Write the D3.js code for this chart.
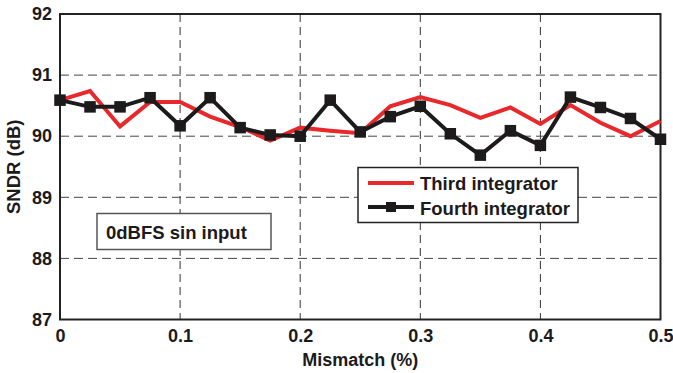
<!DOCTYPE html>
<html>
<head>
<meta charset="utf-8">
<script src="https://cdn.jsdelivr.net/npm/d3@7"></script>
<style>
  html, body { margin: 0; padding: 0; background: #fff; }
  svg { display: block; font-family: "Liberation Sans", Arial, sans-serif; font-weight: bold; }
</style>
</head>
<body>
<svg id="chart" width="673" height="373"></svg>
<script>
const mismatch = [0, 0.025, 0.05, 0.075, 0.1, 0.125, 0.15, 0.175, 0.2, 0.225, 0.25,
                  0.275, 0.3, 0.325, 0.35, 0.375, 0.4, 0.425, 0.45, 0.475, 0.5];
const thirdIntegrator = [90.59, 90.74, 90.16, 90.56, 90.56, 90.32, 90.15, 89.93, 90.14, 90.09, 90.05,
                         90.49, 90.64, 90.51, 90.30, 90.47, 90.20, 90.51, 90.22, 90.00, 90.25];
const fourthIntegrator = [90.59, 90.48, 90.48, 90.63, 90.17, 90.63, 90.14, 90.02, 90.00, 90.59, 90.07,
                          90.32, 90.49, 90.04, 89.69, 90.09, 89.85, 90.64, 90.47, 90.29, 89.95];
const xTicks = [0, 0.1, 0.2, 0.3, 0.4, 0.5];
const xTickLabels = ["0", "0.1", "0.2", "0.3", "0.4", "0.5"];
const yTicks = [87, 88, 89, 90, 91, 92];
const seriesNames = ["Third integrator", "Fourth integrator"];
const annotation = "0dBFS sin input";

const svg = d3.select("#chart");
const pL = 60, pR = 660.5, pT = 14, pB = 319.5;
const x = d3.scaleLinear().domain([0, 0.5]).range([pL, pR]);
const y = d3.scaleLinear().domain([87, 92]).range([pB, pT]);
const ink = "#1c1a1b";

// grid
const grid = svg.append("g");
grid.selectAll("line.v").data(xTicks.slice(1, -1)).join("line")
  .attr("x1", d => x(d)).attr("x2", d => x(d)).attr("y1", pT).attr("y2", pB)
  .attr("stroke", "#333").attr("stroke-width", 1).attr("stroke-dasharray", "8,5");
grid.selectAll("line.h").data(yTicks.slice(1, -1)).join("line")
  .attr("y1", d => y(d)).attr("y2", d => y(d)).attr("x1", pL).attr("x2", pR)
  .attr("stroke", "#444").attr("stroke-width", 1).attr("stroke-dasharray", "9,5");

// axes
const xAxis = d3.axisBottom(x).tickValues(xTicks).tickFormat((d, i) => xTickLabels[i]).tickSize(0).tickPadding(10);
const yAxis = d3.axisLeft(y).tickValues(yTicks).tickFormat(d3.format("d")).tickSize(0).tickPadding(8);
const gx = svg.append("g").attr("transform", `translate(0,${pB})`).call(xAxis);
const gy = svg.append("g").attr("transform", `translate(${pL},0)`).call(yAxis);
[gx, gy].forEach(g => {
  g.select(".domain").remove();
  g.selectAll("text").attr("font-size", 18).attr("font-weight", "bold").attr("fill", ink)
    .attr("font-family", "Liberation Sans, Arial, sans-serif");
});

// frame
svg.append("rect").attr("x", pL).attr("y", pT).attr("width", pR - pL).attr("height", pB - pT)
  .attr("fill", "none").attr("stroke", "#222").attr("stroke-width", 2);

// lines
const line = d3.line().x((d, i) => x(mismatch[i])).y(d => y(d));
svg.append("path").datum(thirdIntegrator).attr("d", line)
  .attr("fill", "none").attr("stroke", "#e8282b").attr("stroke-width", 4).attr("stroke-linejoin", "miter");
svg.append("path").datum(fourthIntegrator).attr("d", line)
  .attr("fill", "none").attr("stroke", ink).attr("stroke-width", 4).attr("stroke-linejoin", "miter");
const ms = 11.5;
svg.selectAll("rect.mk").data(fourthIntegrator).join("rect")
  .attr("x", (d, i) => x(mismatch[i]) - ms / 2).attr("y", d => y(d) - ms / 2)
  .attr("width", ms).attr("height", ms).attr("fill", ink);

// axis titles
svg.append("text").attr("x", (pL + pR) / 2).attr("y", 366).attr("text-anchor", "middle")
  .attr("font-size", 18).attr("fill", ink).text("Mismatch (%)");
svg.append("text").attr("transform", `translate(20,${(pT + pB) / 2}) rotate(-90)`).attr("text-anchor", "middle")
  .attr("font-size", 18.5).attr("fill", ink).text("SNDR (dB)");

// legend
const lg = svg.append("g");
lg.append("rect").attr("x", 358).attr("y", 167.5).attr("width", 220).attr("height", 55)
  .attr("fill", "#fff").attr("stroke", "#222").attr("stroke-width", 1.5);
lg.append("line").attr("x1", 368).attr("x2", 414).attr("y1", 183).attr("y2", 183)
  .attr("stroke", "#e8282b").attr("stroke-width", 4);
lg.append("line").attr("x1", 368).attr("x2", 414).attr("y1", 207).attr("y2", 207)
  .attr("stroke", ink).attr("stroke-width", 4);
lg.append("rect").attr("x", 391 - 5).attr("y", 207 - 5).attr("width", 10).attr("height", 10).attr("fill", ink);
lg.selectAll("text").data(seriesNames).join("text")
  .attr("x", 420).attr("y", (d, i) => 189.5 + i * 25.5)
  .attr("font-size", 18.5).attr("fill", ink).text(d => d);

// annotation
svg.append("rect").attr("x", 97).attr("y", 213.5).attr("width", 174).attr("height", 36)
  .attr("fill", "#fff").attr("stroke", "#555").attr("stroke-width", 1.5);
svg.append("text").attr("x", 106).attr("y", 239).attr("font-size", 18.5).attr("fill", ink).text(annotation);
</script>
</body>
</html>
